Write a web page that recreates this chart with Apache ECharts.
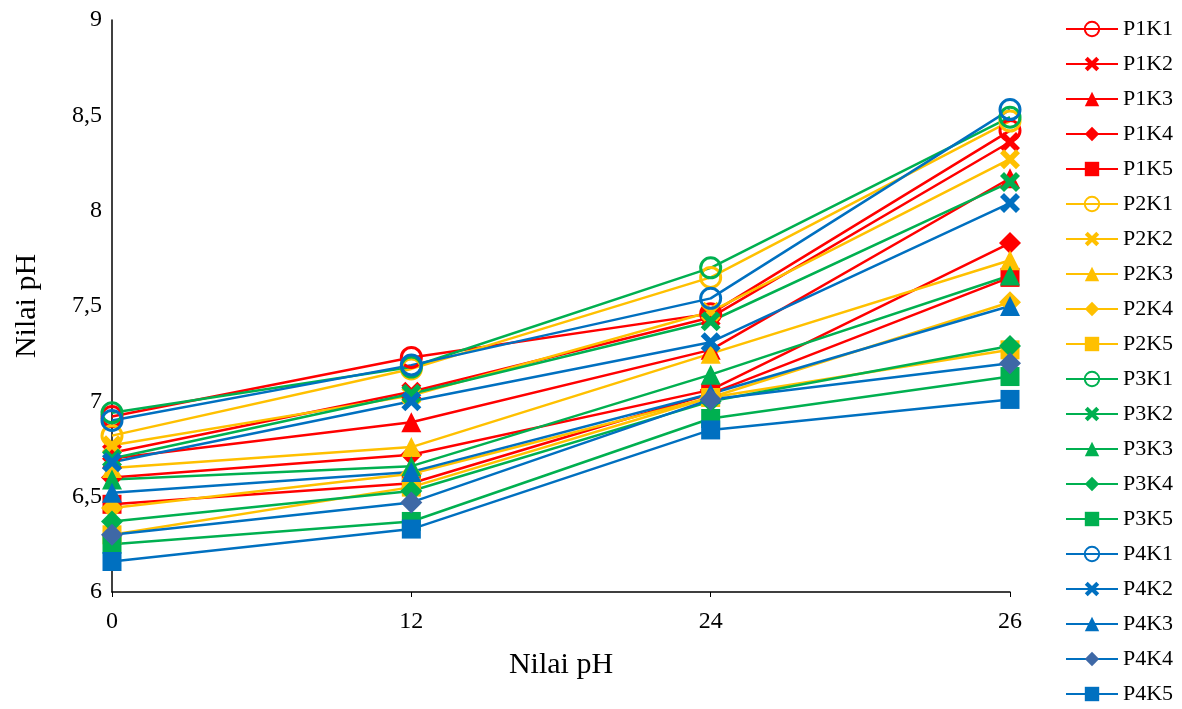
<!DOCTYPE html>
<html>
<head>
<meta charset="utf-8">
<script src="https://cdn.jsdelivr.net/npm/echarts@6/dist/echarts.min.js"></script>
<style>html,body{margin:0;padding:0;background:#fff}#c{width:1182px;height:709px}</style>
</head>
<body>
<div id="c"></div>
<script>
var categories = ['0', '12', '24', '26'];
var yTicks = [6, 6.5, 7, 7.5, 8, 8.5, 9];

var P1K1 = [6.92, 7.23, 7.46, 8.42];
var P1K2 = [6.73, 7.05, 7.44, 8.36];
var P1K3 = [6.70, 6.89, 7.27, 8.17];
var P1K4 = [6.60, 6.72, 7.06, 7.83];
var P1K5 = [6.46, 6.57, 7.04, 7.65];

var P2K1 = [6.82, 7.17, 7.65, 8.47];
var P2K2 = [6.77, 7.03, 7.47, 8.27];
var P2K3 = [6.65, 6.76, 7.25, 7.74];
var P2K4 = [6.44, 6.62, 7.02, 7.52];
var P2K5 = [6.30, 6.55, 7.02, 7.27];

var P3K1 = [6.94, 7.18, 7.70, 8.49];
var P3K2 = [6.70, 7.04, 7.42, 8.15];
var P3K3 = [6.59, 6.66, 7.14, 7.66];
var P3K4 = [6.37, 6.53, 7.00, 7.29];
var P3K5 = [6.25, 6.37, 6.91, 7.13];

var P4K1 = [6.90, 7.19, 7.54, 8.53];
var P4K2 = [6.68, 7.00, 7.31, 8.04];
var P4K3 = [6.52, 6.63, 7.04, 7.50];
var P4K4 = [6.30, 6.47, 7.01, 7.20];
var P4K5 = [6.16, 6.33, 6.85, 7.01];

var seriesNames = ['P1K1','P1K2','P1K3','P1K4','P1K5','P2K1','P2K2','P2K3','P2K4','P2K5',
                   'P3K1','P3K2','P3K3','P3K4','P3K5','P4K1','P4K2','P4K3','P4K4','P4K5'];
var seriesData = [P1K1,P1K2,P1K3,P1K4,P1K5,P2K1,P2K2,P2K3,P2K4,P2K5,
                  P3K1,P3K2,P3K3,P3K4,P3K5,P4K1,P4K2,P4K3,P4K4,P4K5];

var groupColors = ['#FF0000', '#FFC000', '#00B050', '#0070C0'];
var xPath = 'path://M2,0 L5,3 L8,0 L10,2 L7,5 L10,8 L8,10 L5,7 L2,10 L0,8 L3,5 L0,2 Z';
var symbols = ['circle', xPath, 'triangle', 'diamond', 'rect'];
var sizes = [20, 20, 20, 22, 19];

var series = seriesNames.map(function (name, i) {
  var g = Math.floor(i / 5), k = i % 5;
  var c = groupColors[g];
  var markerColor = (name === 'P4K4') ? '#3E68A6' : c;
  var s = {
    name: name,
    type: 'line',
    data: seriesData[i],
    color: markerColor,
    symbol: symbols[k],
    symbolSize: sizes[k],
    showAllSymbol: true,
    lineStyle: { color: c, width: 2.5 },
    itemStyle: { color: markerColor },
    emphasis: { disabled: true },
    animation: false
  };
  if (k === 0) {
    s.itemStyle = { color: 'rgba(255,255,255,0)', borderColor: c, borderWidth: 3 };
  }
  return s;
});

var chart = echarts.init(document.getElementById('c'), null, { renderer: 'canvas' });
chart.setOption({
  backgroundColor: '#fff',
  animation: false,
  textStyle: { fontFamily: 'Liberation Serif' },
  grid: { left: 112, right: 172, top: 20, bottom: 117, containLabel: false },
  legend: {
    orient: 'vertical',
    left: 1065,
    top: 18,
    padding: 0,
    itemWidth: 52,
    itemHeight: 18,
    itemGap: 13.0,
    textStyle: { fontFamily: 'Liberation Serif', fontSize: 22, color: '#000' },
    data: seriesNames
  },
  xAxis: {
    type: 'category',
    data: categories,
    boundaryGap: false,
    name: 'Nilai pH',
    nameLocation: 'middle',
    nameGap: 58,
    nameTextStyle: { fontFamily: 'Liberation Serif', fontSize: 30, color: '#000' },
    axisLine: { lineStyle: { color: '#000', width: 1.5 } },
    axisTick: { show: true, alignWithLabel: true, length: 5, lineStyle: { color: '#000' } },
    axisLabel: { fontFamily: 'Liberation Serif', fontSize: 24, color: '#000', margin: 18 },
    splitLine: { show: false }
  },
  yAxis: {
    type: 'value',
    min: yTicks[0],
    max: yTicks[yTicks.length - 1],
    interval: 0.5,
    name: 'Nilai pH',
    nameLocation: 'middle',
    nameGap: 70,
    nameTextStyle: { fontFamily: 'Liberation Serif', fontSize: 30, color: '#000' },
    axisLine: { show: true, lineStyle: { color: '#000', width: 1.5 } },
    axisTick: { show: false },
    axisLabel: {
      fontFamily: 'Liberation Serif', fontSize: 24, color: '#000', margin: 10,
      formatter: function (v) { return String(v).replace('.', ','); }
    },
    splitLine: { show: false }
  },
  series: series
});
</script>
</body>
</html>
